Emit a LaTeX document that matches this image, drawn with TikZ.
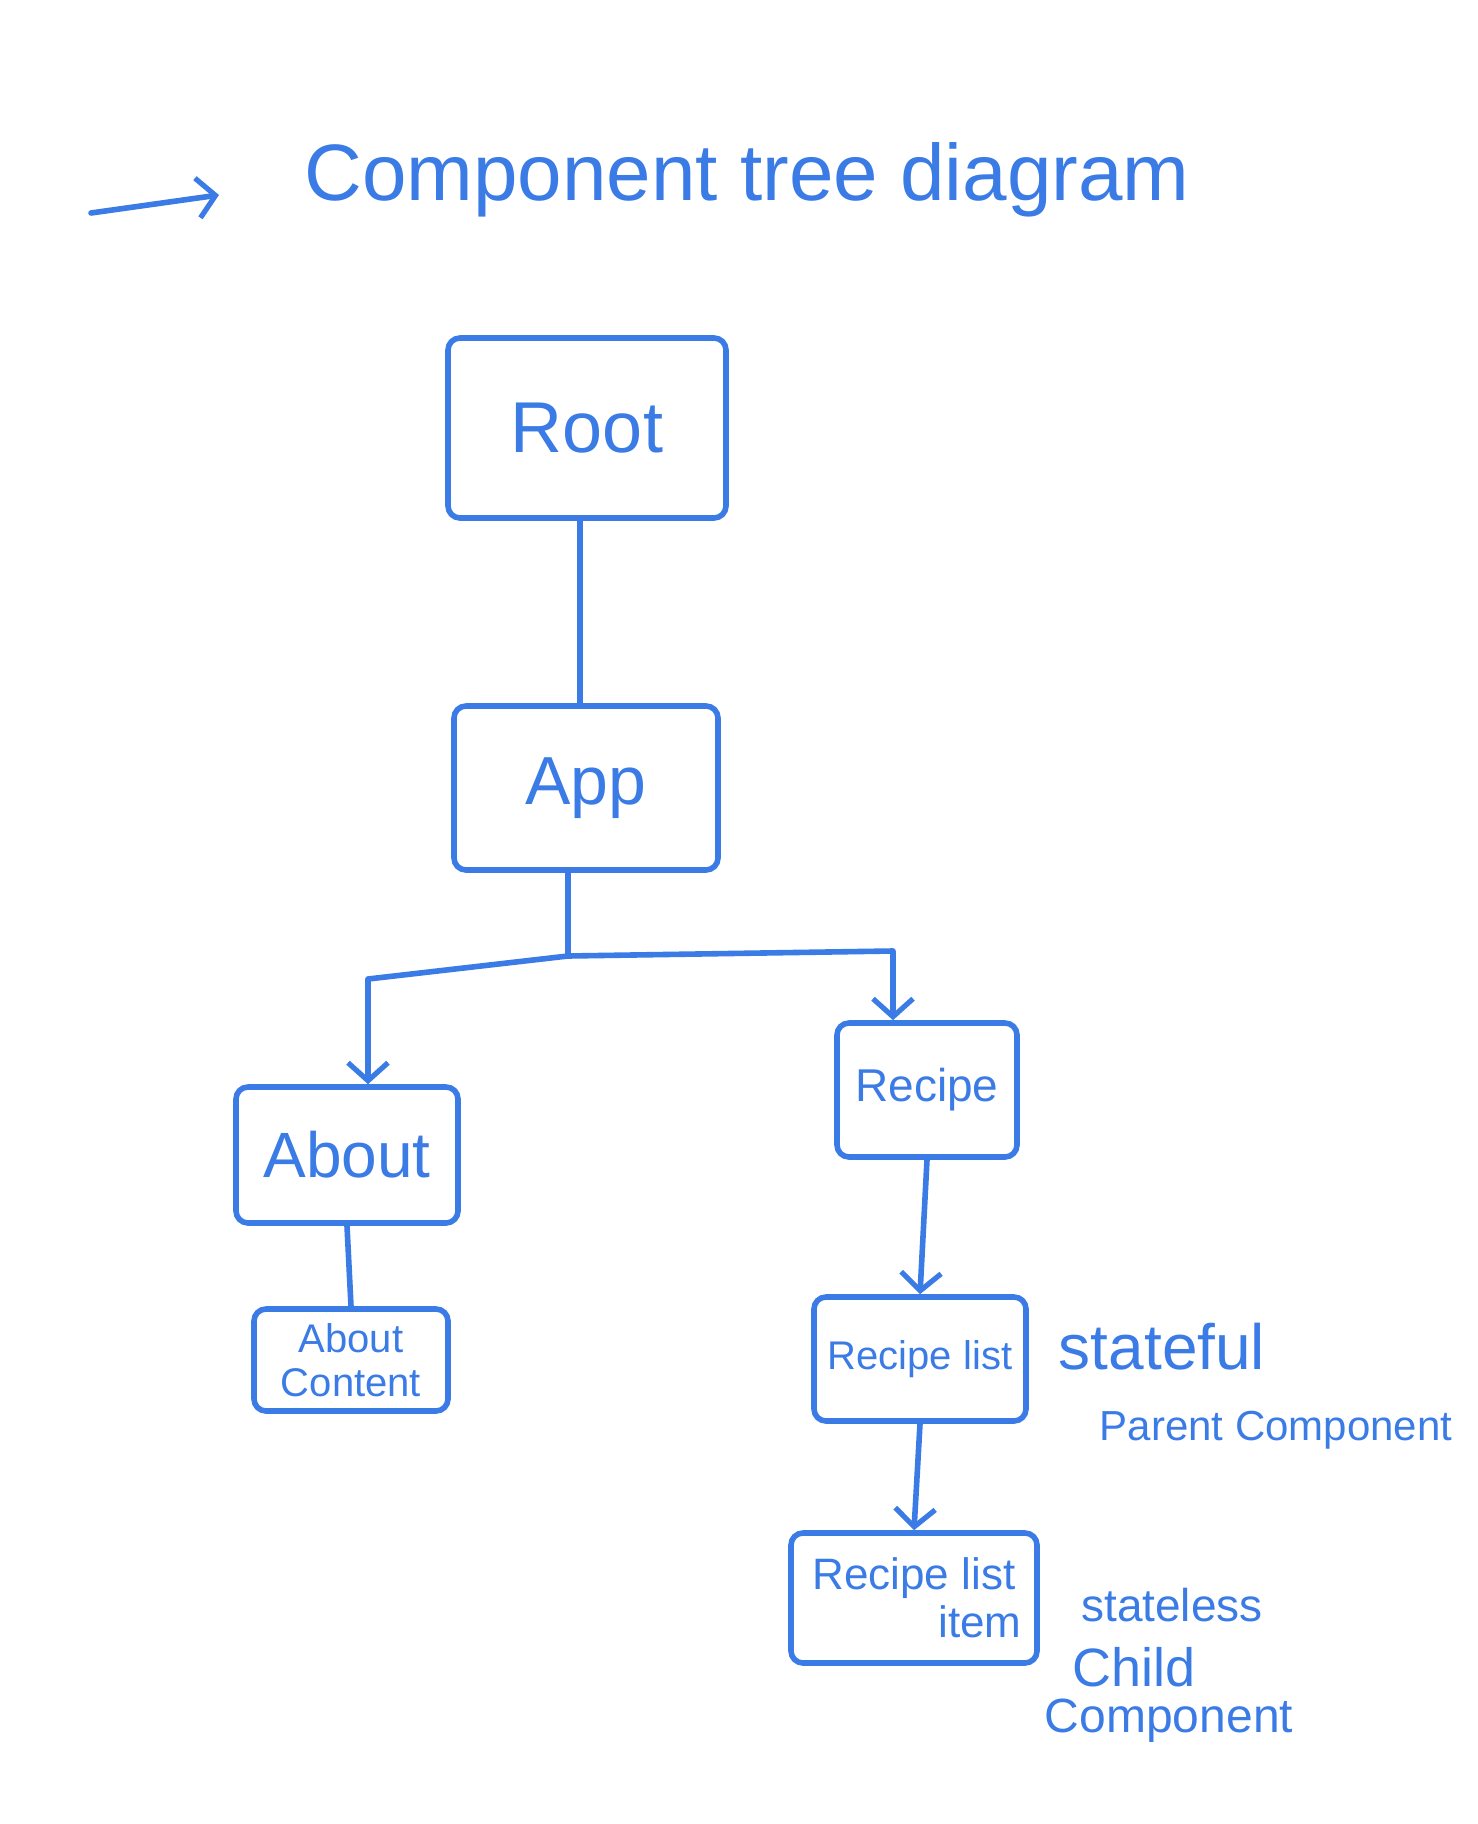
\documentclass[tikz,border=0pt]{standalone}
\usepackage{fontspec}
\setmainfont{Liberation Sans}
\usetikzlibrary{arrows.meta}
\definecolor{ink}{RGB}{58,123,230}
\begin{document}
\begin{tikzpicture}[x=0.5pt,y=-0.5pt,
  ink line/.style={draw=ink,line width=2.8pt,line cap=round,line join=round},
  box/.style={ink line,rounded corners=6pt,inner sep=0pt,align=center,text=ink},
  lbl/.style={text=ink,inner sep=0pt,align=left},
  tip/.style={-{Straight Barb[length=9pt,width=20pt,line width=2.6pt]}}]
\useasboundingbox (0,0) rectangle (1477,1824);
% title
\coordinate (ta) at (91,213);
\coordinate (tb) at (219,195);
\draw[ink line,tip] (ta) -- (tb);
\node[lbl,font=\fontsize{40}{48}\selectfont] (title) at (747,180) {Component tree diagram};
% boxes
\node[box,minimum width=139pt,minimum height=90pt,font=\fontsize{36}{40}\selectfont] (root) at (587,428) {Root};
\node[box,minimum width=132pt,minimum height=82pt,font=\fontsize{34}{40}\selectfont] (app) at (586,788) {App};
\node[box,minimum width=111pt,minimum height=68pt,font=\fontsize{32}{36}\selectfont] (about) at (347,1155) {About};
\node[box,minimum width=97pt,minimum height=51pt,font=\fontsize{20}{22}\selectfont] (aboutc) at (351,1360) {About\\Content};
\node[box,minimum width=90pt,minimum height=67pt,font=\fontsize{23}{26}\selectfont] (recipe) at (927,1090) {Recipe};
\node[box,minimum width=106pt,minimum height=62pt,font=\fontsize{20}{24}\selectfont] (rlist) at (920,1359) {Recipe list};
\node[box,minimum width=123pt,minimum height=65pt,font=\fontsize{22}{24}\selectfont] (ritem) at (914,1598) {Recipe list\\\hspace*{3em}item};
% annotations
\node[lbl,font=\fontsize{32}{36}\selectfont] (sful) at (1162,1347) {stateful};
\node[lbl,font=\fontsize{21}{26}\selectfont] (parent) at (1276,1430) {Parent Component};
\node[lbl,font=\fontsize{23}{28}\selectfont] (sless) at (1172,1605) {stateless};
\node[lbl,font=\fontsize{27}{30}\selectfont] (child) at (1134,1667) {Child};
\node[lbl,font=\fontsize{24}{28}\selectfont] (comp) at (1169,1721) {Component};
% connectors
\coordinate (j) at (568,956);
\coordinate (jl) at (368,979);
\coordinate (jr) at (893,951);
\coordinate (rs) at (580,512);
\draw[ink line] (rs |- root.south) -- (rs |- app.north);
\draw[ink line] (j |- app.south) -- (j);
\draw[ink line,tip] (j) -- (jl) -- (jl |- about.north);
\draw[ink line,tip] (j) -- (jr) -- (jr |- recipe.north);
\draw[ink line] (about.south) -- (aboutc.north);
\draw[ink line,tip] (recipe.south) -- (rlist.north);
\draw[ink line,tip] (rlist.south) -- (ritem.north);
\end{tikzpicture}
\end{document}
